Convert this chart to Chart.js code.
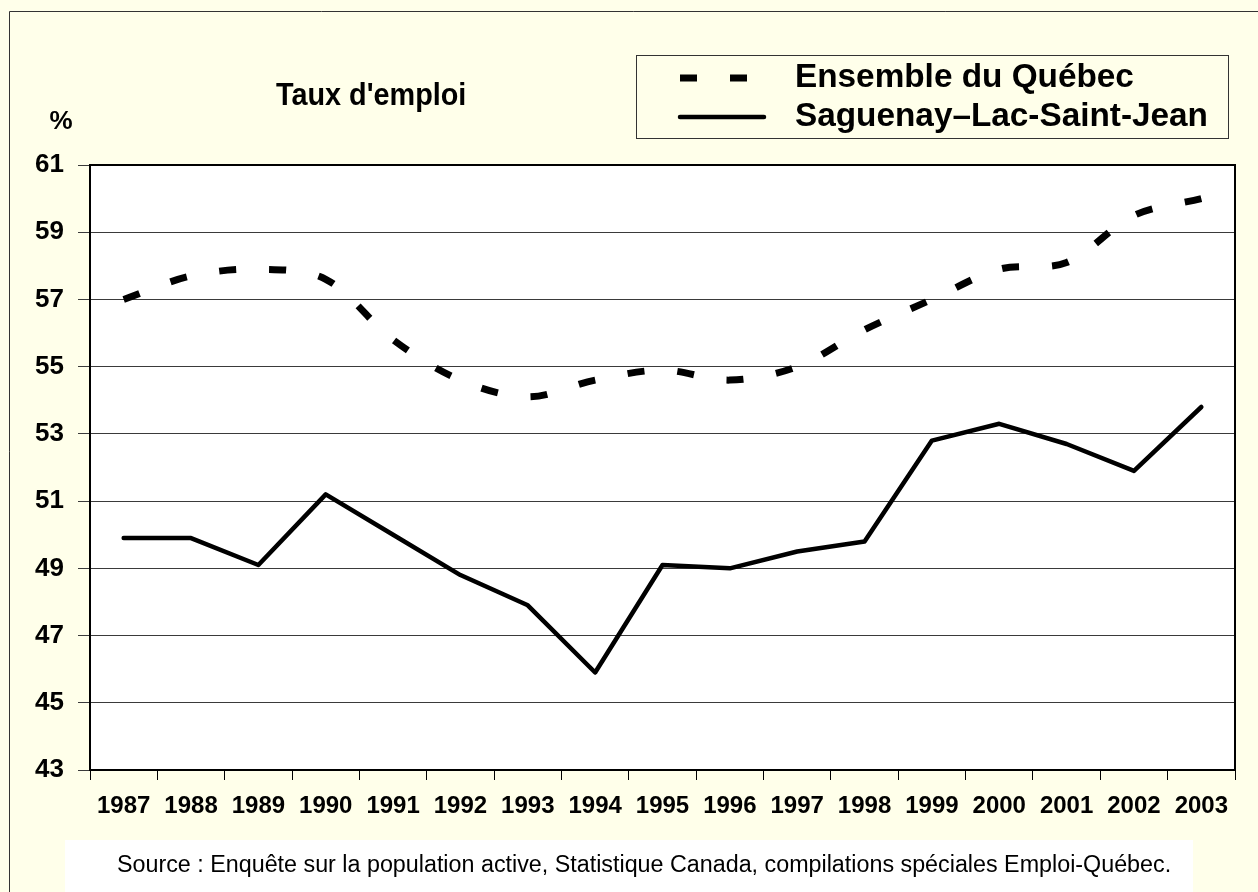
<!DOCTYPE html>
<html lang="fr">
<head>
<meta charset="utf-8">
<title>Taux d'emploi</title>
<script src="https://cdn.jsdelivr.net/npm/chart.js@4"></script>
<style>
  html, body { margin: 0; padding: 0; background: #FFFFEA; }
  #wrap { width: 1258px; height: 892px; position: relative; }
</style>
</head>
<body>
<div id="wrap"><canvas id="graphique" width="1258" height="892"></canvas></div>
<script>
const ANNEES = ['1987', '1988', '1989', '1990', '1991', '1992', '1993', '1994', '1995',
  '1996', '1997', '1998', '1999', '2000', '2001', '2002', '2003']

const ENSEMBLE_QUEBEC = [57.0, 57.7, 57.9, 57.6, 55.8, 54.6, 54.1, 54.6, 54.9,
  54.6, 55.0, 56.1, 57.0, 57.9, 58.1, 59.5, 60.0]

const SAGUENAY_LAC_SAINT_JEAN = [49.9, 49.9, 49.1, 51.2, 50.0, 48.8, 47.9, 45.9, 49.1,
  49.0, 49.5, 49.8, 52.8, 53.3, 52.7, 51.9, 53.8]

const GRADUATIONS = [43, 45, 47, 49, 51, 53, 55, 57, 59, 61]

const NOMS_SERIES = ['Ensemble du Québec', 'Saguenay–Lac-Saint-Jean']
const TITRE = "Taux d'emploi"
const UNITE = '%'
const SOURCE = 'Source : Enquête sur la population active, Statistique Canada, compilations spéciales Emploi-Québec.'

const FOND = '#FFFFEA'
const POLICE = 'Arial, "Liberation Sans", sans-serif'

function dessinerLigneLegende(ctx, ds, x1, x2, y) {
  ctx.save()
  ctx.strokeStyle = ds.borderColor
  ctx.lineWidth = ds.borderWidth
  ctx.lineCap = ds.borderCapStyle
  ctx.setLineDash(ds.borderDash || [])
  ctx.beginPath()
  ctx.moveTo(x1, y)
  ctx.lineTo(x2, y)
  ctx.stroke()
  ctx.restore()
}

// texte un peu resserré horizontalement, comme dans l'original
function texteSerre(ctx, texte, x, y, serrage) {
  ctx.save()
  ctx.translate(x, y)
  ctx.scale(serrage, 1)
  ctx.fillText(texte, 0, 0)
  ctx.restore()
}

const decor = {
  id: 'decor',
  beforeDraw(chart) {
    const { ctx, chartArea: a } = chart
    ctx.save()
    ctx.fillStyle = FOND
    ctx.fillRect(0, 0, chart.width, chart.height)
    ctx.fillStyle = '#FFFFFF'
    ctx.fillRect(a.left, a.top, a.right - a.left, a.bottom - a.top)
    // cadre extérieur (seulement haut et gauche visibles)
    ctx.strokeStyle = '#333333'
    ctx.lineWidth = 1
    ctx.beginPath()
    ctx.moveTo(9.5, chart.height)
    ctx.lineTo(9.5, 11.5)
    ctx.lineTo(chart.width, 11.5)
    ctx.stroke()
    // encadré de la source
    ctx.fillStyle = '#FFFFFF'
    ctx.fillRect(65, 840, 1128, 52)
    ctx.restore()
  },
  afterDraw(chart) {
    const { ctx, chartArea: a } = chart
    ctx.save()
    ctx.strokeStyle = '#000000'
    ctx.lineWidth = 2
    ctx.strokeRect(a.left, a.top, a.right - a.left, a.bottom - a.top)

    ctx.fillStyle = '#000000'
    ctx.textBaseline = 'middle'
    ctx.textAlign = 'left'
    ctx.font = 'bold 32px ' + POLICE
    texteSerre(ctx, TITRE, 276, 96, 0.9)

    ctx.textAlign = 'center'
    ctx.font = 'bold 26px ' + POLICE
    ctx.fillText(UNITE, 61, 122)

    // légende
    ctx.strokeStyle = '#333333'
    ctx.lineWidth = 1
    ctx.strokeRect(636.5, 55.5, 592, 83)
    const rangs = [78, 117]
    chart.data.datasets.forEach((ds, i) => {
      dessinerLigneLegende(ctx, ds, 680, 764, rangs[i])
      ctx.fillStyle = '#000000'
      ctx.textAlign = 'left'
      ctx.font = 'bold 34px ' + POLICE
      texteSerre(ctx, ds.label, 795, rangs[i], 0.98)
    })

    ctx.font = '23.3px ' + POLICE
    ctx.textAlign = 'left'
    ctx.fillText(SOURCE, 117, 866)
    ctx.restore()
  }
}

new Chart(document.getElementById('graphique'), {
  type: 'line',
  data: {
    labels: ANNEES,
    datasets: [
      {
        label: NOMS_SERIES[0],
        data: ENSEMBLE_QUEBEC,
        borderColor: '#000000',
        borderWidth: 7,
        borderDash: [17, 33],
        borderCapStyle: 'butt',
        tension: 0.33,
        pointRadius: 0,
        fill: false
      },
      {
        label: NOMS_SERIES[1],
        data: SAGUENAY_LAC_SAINT_JEAN,
        borderColor: '#000000',
        borderWidth: 4.5,
        borderCapStyle: 'round',
        borderJoinStyle: 'round',
        tension: 0,
        pointRadius: 0,
        fill: false
      }
    ]
  },
  options: {
    responsive: false,
    animation: false,
    layout: { padding: { left: 0, top: 165, right: 23, bottom: 0 } },
    plugins: {
      legend: { display: false },
      title: { display: false },
      tooltip: { enabled: false }
    },
    scales: {
      x: {
        offset: true,
        grid: { offset: true, drawOnChartArea: false, drawTicks: true, tickLength: 10, color: '#000000', lineWidth: 1 },
        border: { display: true, color: '#000000', width: 2 },
        ticks: { color: '#000000', font: { family: POLICE, size: 24, weight: 'bold' }, padding: 12, maxRotation: 0, autoSkip: false },
        afterFit(scale) { scale.height = 122 }
      },
      y: {
        min: GRADUATIONS[0],
        max: GRADUATIONS[GRADUATIONS.length - 1],
        afterBuildTicks(scale) { scale.ticks = GRADUATIONS.map(v => ({ value: v })) },
        grid: { color: '#3a3a3a', lineWidth: 1, tickLength: 12, drawTicks: true },
        border: { display: true, color: '#000000', width: 2 },
        ticks: { color: '#000000', font: { family: POLICE, size: 26, weight: 'bold' }, padding: 14 },
        afterFit(scale) { scale.width = 90 }
      }
    }
  },
  plugins: [decor]
})
</script>
</body>
</html>
